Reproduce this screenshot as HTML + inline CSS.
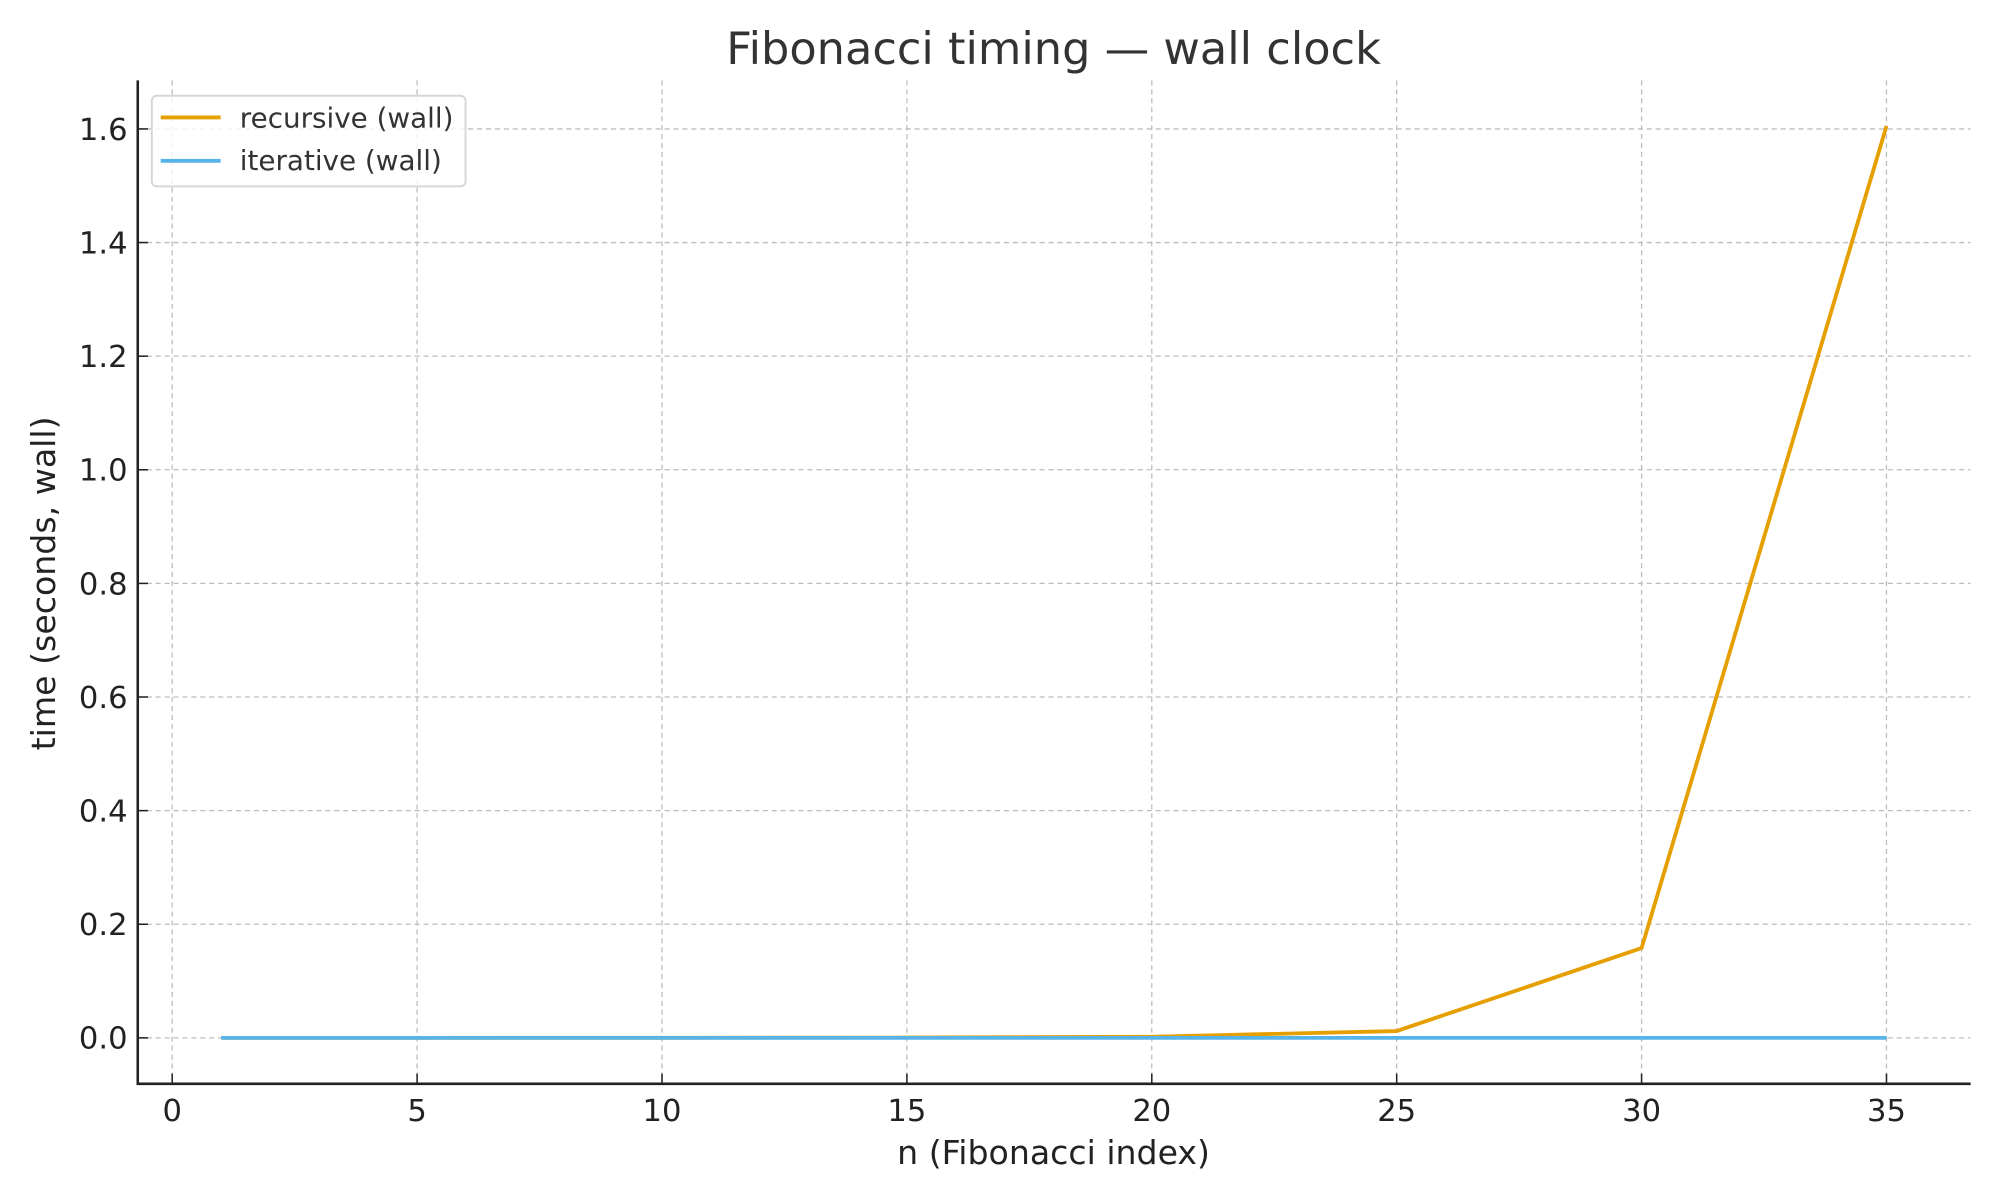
<!DOCTYPE html>
<html><head><meta charset="utf-8"><style>
html,body{margin:0;padding:0;background:#fff;}
svg{display:block;font-family:"DejaVu Sans","Liberation Sans",sans-serif;}
</style></head><body>
<svg id="chart" width="2000" height="1200" viewBox="0 0 1568 940" preserveAspectRatio="none" xmlns="http://www.w3.org/2000/svg">
<g id="grid"></g>
<g id="series"></g>
<g id="axes"></g>
<text x="826" y="50" text-anchor="middle" font-size="35" fill="#333">Fibonacci timing — wall clock</text>
<text x="826" y="912" text-anchor="middle" font-size="26" fill="#222">n (Fibonacci index)</text>
<text transform="translate(43,457) rotate(-90)" text-anchor="middle" font-size="26" fill="#222">time (seconds, wall)</text>
<g>
<rect x="119" y="75" width="246" height="71" rx="4" fill="#fff" fill-opacity="0.8" stroke="#d6d6d6" stroke-width="1.5"/>
<line x1="126" y1="92" x2="173" y2="92" stroke="#E69F00" stroke-width="3"/>
<text x="188" y="100" font-size="21.8" fill="#333">recursive (wall)</text>
<line x1="126" y1="126" x2="173" y2="126" stroke="#56B4E9" stroke-width="3"/>
<text x="188" y="133" font-size="21.8" fill="#333">iterative (wall)</text>
</g>
</svg>
<script>
const nValues=[1,5,10,15,20,25,30,35];
const recursiveWall=[0.0000,0.0000,0.0001,0.0005,0.002,0.012,0.158,1.605];
const iterativeWall=[0.0000,0.0000,0.0000,0.0000,0.0000,0.0000,0.0000,0.0000];
const xTicks=[0,5,10,15,20,25,30,35];
const yTicks=[0.0,0.2,0.4,0.6,0.8,1.0,1.2,1.4,1.6];
const NS="http://www.w3.org/2000/svg";
const L=108,R=1545,T=63,B=849;
function xs(v){return 135+(v-0)*(1479-135)/35;}
function ys(v){return 813-v*(813-101)/1.6;}
function mk(t,a,p){const e=document.createElementNS(NS,t);for(const k in a)e.setAttribute(k,a[k]);p.appendChild(e);return e;}
const grid=document.getElementById('grid'),axes=document.getElementById('axes'),series=document.getElementById('series');
xTicks.forEach(t=>{
 const g=mk('line',{x1:xs(t),x2:xs(t),y1:T,y2:B,stroke:'#bdbdbd','stroke-width':1,'stroke-dasharray':'4,3'},grid);
 
 
 const tk=mk('line',{x1:xs(t),x2:xs(t),y1:B,y2:B-8,stroke:'#222','stroke-width':1.2},axes);
 
 
 const lb=mk('text',{x:xs(t),y:B+29,'text-anchor':'middle','font-size':24,fill:'#222'},axes);
 lb.textContent=t;
 
 
});
yTicks.forEach(t=>{
 const g=mk('line',{x1:L,x2:R,y1:ys(t),y2:ys(t),stroke:'#bdbdbd','stroke-width':1,'stroke-dasharray':'4,3'},grid);
 
 
 const tk=mk('line',{x1:L,x2:L+8,y1:ys(t),y2:ys(t),stroke:'#222','stroke-width':1.2},axes);
 
 
 const lb=mk('text',{x:L-8,y:ys(t)+8.5,'text-anchor':'end','font-size':24,fill:'#222'},axes);
 lb.textContent=t.toFixed(1);
 
 
});
const ax=mk('path',{d:`M${L},${T}V${B}H${R}`,fill:'none',stroke:'#222','stroke-width':2},axes);


function pts(arr){return nValues.map((n,i)=>xs(n)+','+ys(arr[i])).join(' ');}
const rl=mk('polyline',{points:pts(recursiveWall),fill:'none',stroke:'#E69F00','stroke-width':3,'stroke-linejoin':'round'},series);


const il=mk('polyline',{points:pts(iterativeWall),fill:'none',stroke:'#56B4E9','stroke-width':3,'stroke-linejoin':'round'},series);


</script>
</body></html>
